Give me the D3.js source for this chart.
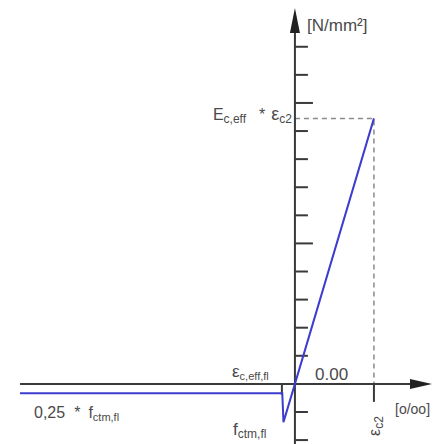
<!DOCTYPE html>
<html><head><meta charset="utf-8">
<script src="https://cdn.jsdelivr.net/npm/d3@7"></script>
<style>
html,body{margin:0;padding:0;background:#fff;}
svg{display:block;font-family:"Liberation Sans",Arial,sans-serif;}
</style></head>
<body><div id="chart"></div>
<script>
// strain (o/oo, schematic units) and stress (schematic units)
const strain = [-6.96, -0.32, -0.29, 0, 2.0];
const stress = [-0.33, -0.33, -1.36, 0, 9.45];
const yTicks = [-2, -1, 1, 2, 3, 4, 5, 6, 7, 8, 9, 10, 11, 12];
const majorTicks = [5, 10];
const epsFl = -0.33, epsC2 = 2.0, peak = 9.45;

const W = 448, H = 444;
const svg = d3.select("#chart").append("svg").attr("width", W).attr("height", H);
const x = d3.scaleLinear().domain([-6.96, 3.47]).range([20, 432]);
const y = d3.scaleLinear().domain([-2.14, 13.38]).range([444, 8]);
const axisCol = "#3a3a3a", textCol = "#4a4a4a", blue = "#3c3cd0";

// dashed guides
svg.append("path")
  .attr("d", `M${x(0)},${y(peak)}H${x(epsC2)}V${y(0)}`)
  .attr("fill", "none").attr("stroke", "#8a8a8a").attr("stroke-width", 1.5)
  .attr("stroke-dasharray", "5,4");

// y axis
svg.append("line").attr("x1", x(0)).attr("x2", x(0)).attr("y1", H).attr("y2", 20)
  .attr("stroke", axisCol).attr("stroke-width", 2);
svg.append("path").attr("d", `M${x(0)},8L${x(0)-5},33L${x(0)+5},33Z`).attr("fill", "#222");
svg.selectAll(".yt").data(yTicks).enter().append("line")
  .attr("x1", x(0)).attr("x2", d => x(0) + (majorTicks.includes(d) ? 18 : 13))
  .attr("y1", d => y(d)).attr("y2", d => y(d))
  .attr("stroke", axisCol).attr("stroke-width", 2);

// x axis
svg.append("line").attr("x1", x(-6.96)).attr("x2", 420).attr("y1", y(0)).attr("y2", y(0))
  .attr("stroke", axisCol).attr("stroke-width", 2);
svg.append("path").attr("d", `M432,${y(0)}L410,${y(0)-5}L410,${y(0)+5}Z`).attr("fill", "#222");
svg.append("line").attr("x1", x(epsFl)).attr("x2", x(epsFl)).attr("y1", y(0)).attr("y2", y(0)+11)
  .attr("stroke", axisCol).attr("stroke-width", 2);
svg.append("line").attr("x1", x(epsC2)).attr("x2", x(epsC2)).attr("y1", y(0)).attr("y2", y(0)+18)
  .attr("stroke", axisCol).attr("stroke-width", 2);

// curve
const line = d3.line().x((d, i) => x(strain[i])).y((d, i) => y(stress[i]));
svg.append("path").datum(strain).attr("d", line)
  .attr("fill", "none").attr("stroke", blue).attr("stroke-width", 2);

// labels: parts {t, dx, fs} or {sub, dx}
function label(xp, yp, parts, size, subSize, anchor) {
  const t = svg.append("text").attr("x", xp).attr("y", yp).attr("fill", textCol)
    .attr("font-size", size).attr("text-anchor", anchor || "start");
  let shift = 0;
  parts.forEach(p => {
    const s = t.append("tspan");
    if (p.dx) s.attr("dx", p.dx);
    if (p.sub) {
      const d = 3;
      s.attr("font-size", subSize).attr("dy", d - shift).text(p.sub);
      shift = d;
    } else {
      if (shift) s.attr("dy", -shift);
      if (p.fs) s.attr("font-size", p.fs);
      shift = 0;
      s.text(p.t);
    }
  });
  return t;
}
label(307, 31, [{t: "[N/mm²]"}], 17, 11);
label(292, 120, [{t: "E"}, {sub: "c,eff"}, {t: "*", dx: 13}, {t: "ε", dx: 6, fs: 18}, {sub: "c2"}], 16, 12, "end");
label(232, 377, [{t: "ε"}, {sub: "c,eff,fl"}], 17, 11);
label(315, 380, [{t: "0.00"}], 17, 11);
label(233, 435, [{t: "f"}, {sub: "ctm,fl"}], 17, 12);
label(34, 418, [{t: "0,25"}, {t: "*", dx: 9}, {t: "f", dx: 8}, {sub: "ctm,fl"}], 16, 11);
label(395, 414, [{t: "[o/oo]"}], 14, 11);
label(0, 0, [{t: "ε"}, {sub: "c2"}], 16, 12).attr("transform", `translate(${x(epsC2)+6},436) rotate(-90)`);
</script></body></html>
